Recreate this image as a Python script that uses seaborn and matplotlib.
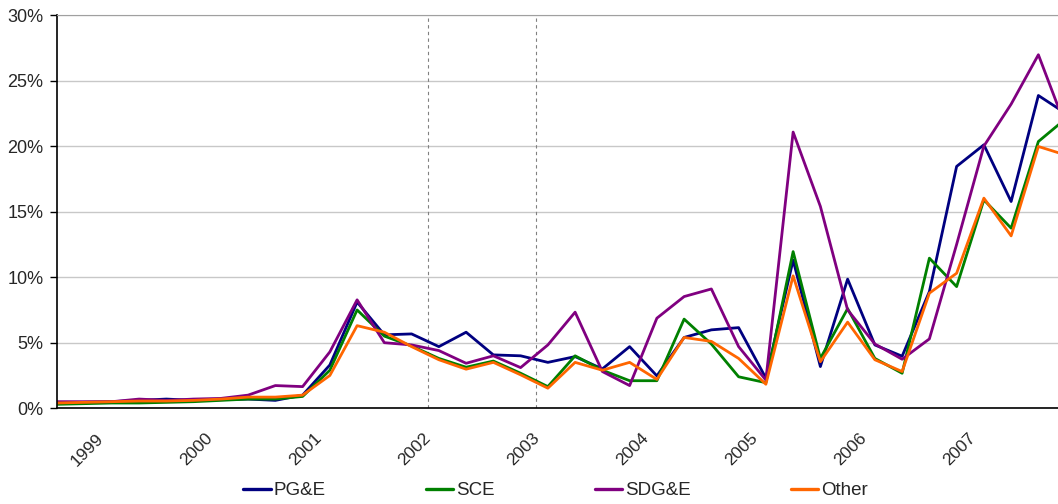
import numpy as np
import pandas as pd
import matplotlib
matplotlib.use('Agg')
import matplotlib.pyplot as plt
import seaborn as sns

# quarterly values, percent
pge = [0.4, 0.45, 0.5, 0.6, 0.7, 0.6, 0.65, 0.7, 0.6, 1.0,
       3.3, 8.1, 5.6, 5.67, 4.7, 5.8, 4.07, 4.0, 3.5, 3.94,
       3.0, 4.7, 2.47, 5.4, 5.98, 6.15, 2.3, 11.3, 3.18, 9.85,
       4.83, 3.97, 8.9, 18.45, 20.1, 15.77, 23.86, 22.5]
sce = [0.3, 0.35, 0.4, 0.4, 0.45, 0.5, 0.6, 0.7, 0.7, 0.9,
       2.9, 7.5, 5.5, 4.75, 3.8, 3.13, 3.6, 2.67, 1.65, 4.0,
       2.9, 2.1, 2.1, 6.8, 4.9, 2.4, 1.95, 11.95, 3.8, 7.6,
       3.8, 2.67, 11.45, 9.28, 15.9, 13.74, 20.35, 22.08]
sdge = [0.5, 0.5, 0.5, 0.7, 0.6, 0.7, 0.75, 1.0, 1.73, 1.65,
        4.3, 8.27, 5.0, 4.83, 4.4, 3.43, 4.0, 3.1, 4.83, 7.33,
        2.8, 1.73, 6.87, 8.52, 9.1, 4.7, 2.15, 21.07, 15.4, 7.5,
        4.9, 3.74, 5.29, 12.5, 20.0, 23.2, 26.97, 21.5]
other = [0.4, 0.45, 0.5, 0.55, 0.55, 0.6, 0.7, 0.85, 0.85, 1.0,
         2.5, 6.3, 5.8, 4.7, 3.7, 2.98, 3.5, 2.55, 1.53, 3.5,
         2.9, 3.5, 2.2, 5.4, 5.1, 3.8, 1.83, 10.1, 3.55, 6.57,
         3.7, 2.8, 8.78, 10.3, 16.03, 13.15, 19.97, 19.32]
years = ['1999', '2000', '2001', '2002', '2003', '2004', '2005', '2006', '2007']
year_pos = [1.1, 5.1, 9.1, 13.1, 17.1, 21.1, 25.1, 29.1, 33.1]
markers_v = [13.6, 17.55]  # dashed reference lines

series = {'PG&E': pge, 'SCE': sce, 'SDG&E': sdge, 'Other': other}
colors = {'PG&E': '#000080', 'SCE': '#008000', 'SDG&E': '#800080', 'Other': '#ff6600'}

rows = []
for name, vals in series.items():
    for i, v in enumerate(vals):
        rows.append({'period': i, 'value': v, 'utility': name})
df = pd.DataFrame(rows)

sns.set_style('white')
plt.rcParams['font.family'] = ['Liberation Sans', 'DejaVu Sans']

fig = plt.figure(figsize=(10.58, 5.04), dpi=100)
ax = fig.add_axes([0.0542, 0.19, 0.9458, 0.7802])

ax.yaxis.grid(True, color='#c8c8c8', lw=1)
ax.set_axisbelow(True)
for xv in markers_v:
    ax.axvline(xv, color='#808080', lw=0.8, ls=(0, (3, 3)), zorder=1)

sns.lineplot(data=df, x='period', y='value', hue='utility', palette=colors,
             lw=2, ax=ax, legend=True)

ax.set_xlim(0, 36.72)
ax.set_ylim(0, 30)
ax.set_yticks(range(0, 31, 5))
ax.set_yticklabels([f'{v}%' for v in range(0, 31, 5)], fontsize=13)
ax.set_xticks(year_pos)
ax.set_xticklabels(years, rotation=45, ha='center', va='top', fontsize=12.5)
ax.set_xticks(range(0, 37), minor=True)
ax.tick_params(axis='x', which='major', length=0, pad=16)
ax.tick_params(axis='x', which='minor', length=6, width=1, color='black', direction='out')
ax.tick_params(axis='y', length=5, width=1, color='black', direction='out', left=True, pad=5)
ax.set_xlabel('')
ax.set_ylabel('')

for s in ['left', 'bottom']:
    ax.spines[s].set_color('black')
    ax.spines[s].set_linewidth(1.2)
ax.spines['top'].set_color('#a0a0a0')
ax.spines['right'].set_visible(False)

handles, labels = ax.get_legend_handles_labels()
ax.get_legend().remove()
for h in handles:
    h.set_linewidth(2.4)
fig.legend(handles, labels, loc='center', bbox_to_anchor=(0.525, 0.026), ncol=4,
           frameon=False, fontsize=13.5, handlelength=1.45, handletextpad=0.15,
           columnspacing=5.35, borderaxespad=0)

fig.savefig('out.png', dpi=100)
